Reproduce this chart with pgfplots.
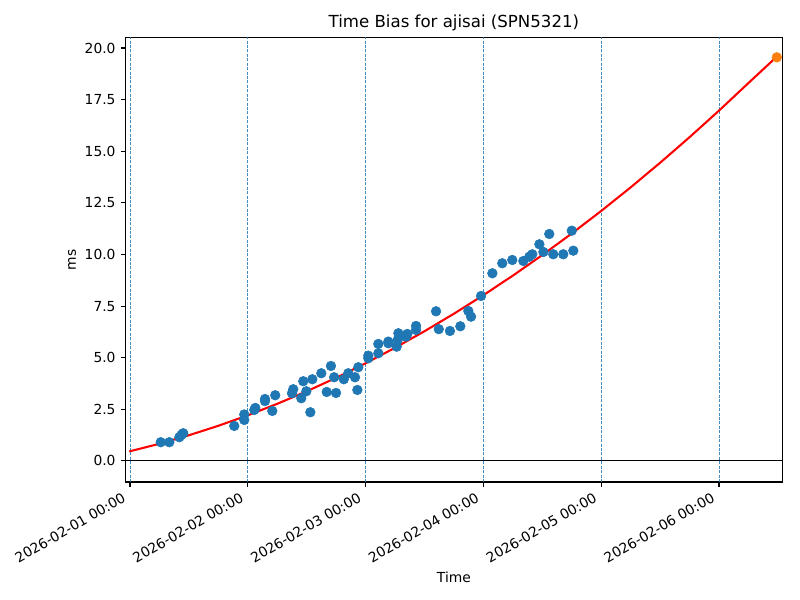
\documentclass[border=0pt]{standalone}
\usepackage{fontspec}
\setmainfont{DejaVu Sans}
\usepackage{pgfplots}
\pgfplotsset{compat=1.18}
\definecolor{C0}{HTML}{1F77B4}
\definecolor{C1}{HTML}{FF7F0E}
\begin{document}
\fontsize{10}{12}\selectfont
\begin{tikzpicture}
\useasboundingbox (0,0) rectangle (578.16pt,433.62pt);
\begin{axis}[
 at={(90.70pt,85.28pt)}, anchor=south west,
 scale only axis, width=474.67pt, height=321.24pt,
 xmin=-0.038, xmax=5.537, ymin=-1.02, ymax=20.51,
 xtick={0,1,2,3,4,5},
 xticklabels={2026-02-01 00:00,2026-02-02 00:00,2026-02-03 00:00,2026-02-04 00:00,2026-02-05 00:00,2026-02-06 00:00},
 x tick label style={rotate=30, anchor=north east, inner sep=0pt, xshift=-7pt, yshift=0pt, font=\fontsize{10}{12}\selectfont},
 ytick={0,2.5,5,7.5,10,12.5,15,17.5,20},
 y tick label style={anchor=east, inner sep=0pt, xshift=-3.5pt, font=\fontsize{10}{12}\selectfont, /pgf/number format/.cd, fixed, fixed zerofill, precision=1},
 /pgf/number format/assume math mode=true,
 tick align=outside, tick pos=left, major tick length=3.5pt,
 tick style={black, line width=0.8pt},
 axis line style={line width=0.8pt},
 title={Time Bias for ajisai (SPN5321)},
 title style={at={(axis description cs:0.5,1)}, anchor=base, yshift=1pt, inner sep=0pt, font=\fontsize{12}{14.4}\selectfont},
 xlabel={Time},
 xlabel style={at={(axis description cs:0.5,0)}, anchor=base, yshift=-72.3pt, inner sep=0pt, font=\fontsize{10}{12}\selectfont},
 ylabel={ms},
 ylabel style={at={(axis description cs:-0.0815,0.5)}, anchor=center, inner sep=0pt, font=\fontsize{10}{12}\selectfont},
]
\pgfplotsinvokeforeach{0,1,2,3,4,5}{
\addplot[C0, opacity=0.85, line width=0.6pt, dash pattern=on 2.2pt off 1pt, forget plot] coordinates {(#1,-1.02) (#1,20.51)};
}
\addplot[black, line width=0.8pt, forget plot] coordinates {(-0.038,0) (5.537,0)};
\addplot[red, line width=1.5pt, no marks] coordinates {
(-0.006,0.46) (0.25,0.832) (0.5,1.243) (0.75,1.702) (1.0,2.21) (1.25,2.767) (1.5,3.373) (1.75,4.027)
(2.0,4.73) (2.25,5.482) (2.5,6.283) (2.75,7.132) (3.0,8.03) (3.25,8.977) (3.5,9.973) (3.75,11.017)
(4.0,12.11) (4.25,13.252) (4.5,14.443) (4.75,15.682) (5.0,16.97) (5.25,18.307) (5.49,19.58)};
\addplot[only marks, mark=*, mark size=3.5pt, C0, mark options={draw=C0, fill=C0}] table {
x y
0.261 0.906
0.334 0.906
0.419 1.148
0.439 1.274
0.452 1.341
0.885 1.696
0.970 1.985
0.970 2.252
1.055 2.470
1.064 2.567
1.146 2.900
1.146 3.000
1.208 2.421
1.233 3.182
1.375 3.278
1.386 3.472
1.454 3.036
1.471 3.860
1.497 3.375
1.531 2.358
1.548 3.956
1.624 4.247
1.670 3.341
1.749 3.293
1.706 4.600
1.733 4.053
1.815 3.956
1.853 4.247
1.910 4.053
1.930 3.438
1.938 4.538
2.023 4.973
2.023 5.099
2.108 5.215
2.108 5.666
2.193 5.700
2.193 5.780
2.264 5.535
2.272 5.860
2.278 6.184
2.343 6.019
2.354 6.150
2.428 6.344
2.428 6.538
2.598 7.249
2.621 6.383
2.716 6.295
2.804 6.523
2.872 7.264
2.895 6.988
2.980 7.990
3.076 9.090
3.160 9.574
3.245 9.734
3.339 9.685
3.390 9.893
3.415 10.010
3.475 10.494
3.509 10.121
3.559 10.993
3.593 10.010
3.678 10.010
3.750 11.153
3.763 10.184
};
\addplot[only marks, mark=*, mark size=3.5pt, C1, mark options={draw=C1, fill=C1}] coordinates {(5.49,19.55)};
\end{axis}
\end{tikzpicture}
\end{document}
